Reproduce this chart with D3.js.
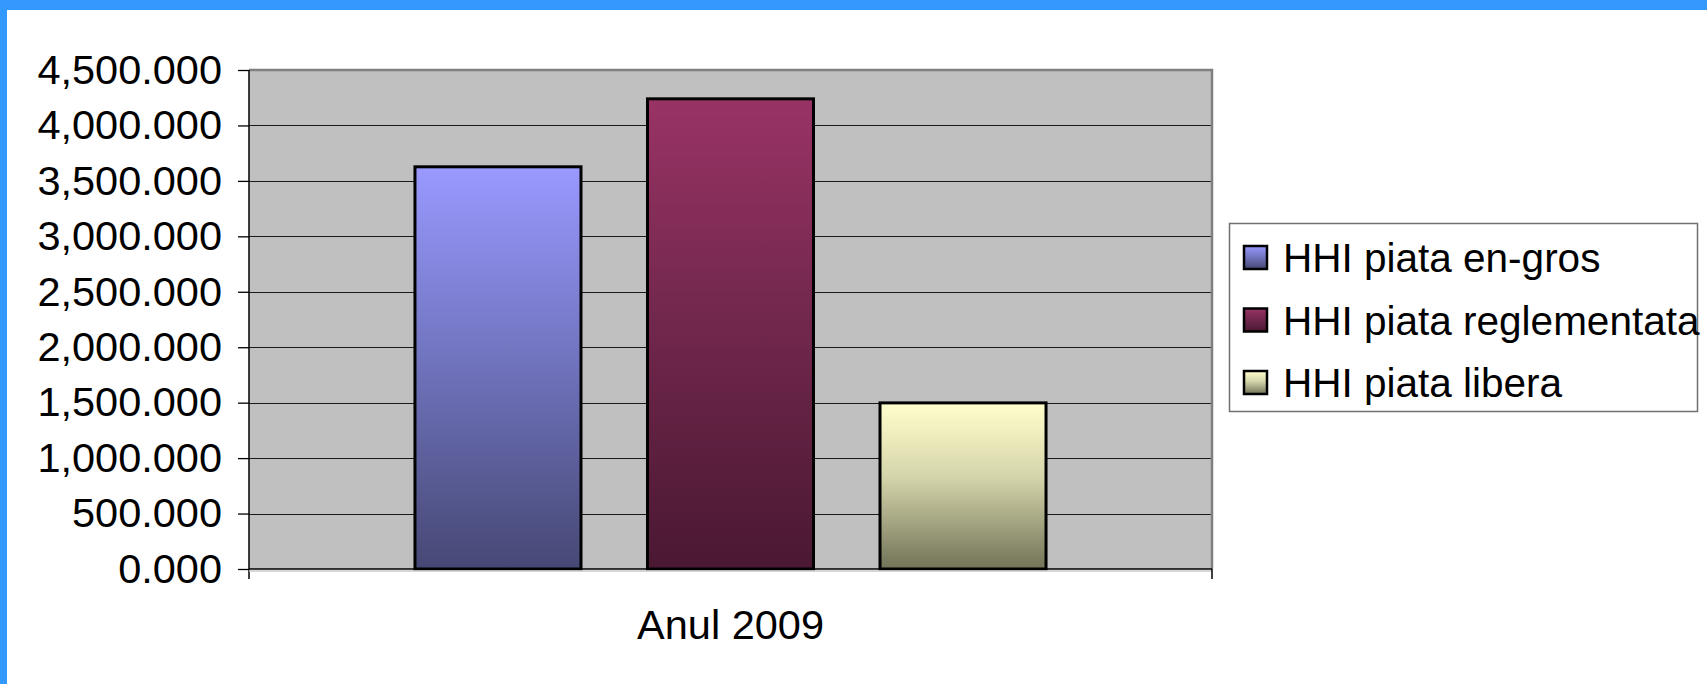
<!DOCTYPE html>
<html>
<head>
<meta charset="utf-8">
<script src="https://cdn.jsdelivr.net/npm/d3@7"></script>
<style>
  body { margin: 0; background: #fff; overflow: hidden; }
  text { font-family: "Liberation Sans", Arial, sans-serif; fill: #000; }
</style>
</head>
<body>
<script>
const w = 1707;
const h = 684;

// data
const categories = ["Anul 2009"];
const seriesNames = ["HHI piata en-gros", "HHI piata reglementata", "HHI piata libera"];
const seriesValues = [3627, 4240, 1498];
const yTicks = [0, 500, 1000, 1500, 2000, 2500, 3000, 3500, 4000, 4500];

// gradient colours, top -> mid -> bottom
const topColors = ["#9999ff", "#993366", "#ffffcc"];
const midColors = ["#7376c2", "#73284d", "#d4d4aa"];
const bottomColors = ["#464874", "#4a1832", "#727358"];

const plot = { left: 249, right: 1212, top: 70, bottom: 569 };

let svg = d3.select("body")
    .append("svg")
    .attr("width", w)
    .attr("height", h);

// blue frame of the slide
svg.append("rect").attr("x", 0).attr("y", 0).attr("width", w).attr("height", 10).attr("fill", "#3399ff");
svg.append("rect").attr("x", 0).attr("y", 0).attr("width", 7).attr("height", h).attr("fill", "#3399ff");

let defs = svg.append("defs");
seriesNames.forEach((s, i) => {
    let g = defs.append("linearGradient")
        .attr("id", "grad" + i)
        .attr("x1", 0).attr("y1", 0).attr("x2", 0).attr("y2", 1);
    g.append("stop").attr("offset", "0%").attr("stop-color", topColors[i]);
    g.append("stop").attr("offset", "45%").attr("stop-color", midColors[i]);
    g.append("stop").attr("offset", "100%").attr("stop-color", bottomColors[i]);
});

let y = d3.scaleLinear()
    .domain([0, 4500])
    .range([plot.bottom, plot.top]);

let x0 = d3.scaleBand()
    .domain(categories)
    .range([plot.left, plot.right])
    .paddingOuter(0.263);

let x1 = d3.scaleBand()
    .domain(seriesNames)
    .range([0, x0.bandwidth()])
    .paddingInner(0.286)
    .paddingOuter(0);

// plot area background
svg.append("rect")
    .attr("x", plot.left)
    .attr("y", plot.top)
    .attr("width", plot.right - plot.left)
    .attr("height", plot.bottom - plot.top)
    .attr("fill", "#c0c0c0");

// gridlines
svg.append("g")
    .selectAll("line")
    .data(yTicks.filter(d => d > 0 && d < 4500))
    .enter()
    .append("line")
    .attr("x1", plot.left)
    .attr("x2", plot.right)
    .attr("y1", d => Math.round(y(d)) + 0.5)
    .attr("y2", d => Math.round(y(d)) + 0.5)
    .attr("stroke", "#1a1a1a")
    .attr("stroke-width", 1.2);

// top and right border of plot area
svg.append("path")
    .attr("d", `M${plot.left},${plot.top} H${plot.right} V${plot.bottom}`)
    .attr("fill", "none")
    .attr("stroke", "#808080")
    .attr("stroke-width", 2.5);

// bars
svg.append("g")
    .selectAll("rect")
    .data(seriesValues)
    .enter()
    .append("rect")
    .attr("x", (d, i) => x0(categories[0]) + x1(seriesNames[i]))
    .attr("width", x1.bandwidth())
    .attr("y", d => y(d))
    .attr("height", d => y(0) - y(d))
    .attr("fill", (d, i) => "url(#grad" + i + ")")
    .attr("stroke", "#000")
    .attr("stroke-width", 3);

// y axis
let yAxis = svg.append("g")
    .attr("transform", "translate(" + plot.left + ",0)")
    .call(d3.axisLeft(y)
        .tickValues(yTicks)
        .tickFormat(d3.format(",.3f"))
        .tickSize(11)
        .tickSizeOuter(0)
        .tickPadding(16));
yAxis.select(".domain").remove();
yAxis.selectAll("line").attr("stroke", "#000").attr("stroke-width", 1.3);
yAxis.selectAll("text")
    .style("font-size", "41.5px")
    .style("font-family", "'Liberation Sans', Arial, sans-serif")
    .attr("fill", "#000");

// axis lines
svg.append("line")
    .attr("x1", plot.left).attr("x2", plot.left)
    .attr("y1", plot.top).attr("y2", plot.bottom + 10)
    .attr("stroke", "#000").attr("stroke-width", 1.5);
svg.append("line")
    .attr("x1", plot.left).attr("x2", plot.right)
    .attr("y1", plot.bottom).attr("y2", plot.bottom)
    .attr("stroke", "#000").attr("stroke-width", 1.5);
svg.append("line")
    .attr("x1", plot.left).attr("x2", plot.right)
    .attr("y1", plot.bottom + 2).attr("y2", plot.bottom + 2)
    .attr("stroke", "#c8c8c8").attr("stroke-width", 1.5);
svg.append("line")
    .attr("x1", plot.right).attr("x2", plot.right)
    .attr("y1", plot.bottom).attr("y2", plot.bottom + 10)
    .attr("stroke", "#000").attr("stroke-width", 1.5);

// x axis label
let xAxis = svg.append("g")
    .attr("transform", "translate(0," + plot.bottom + ")")
    .call(d3.axisBottom(x0).tickSize(0).tickPadding(41));
xAxis.select(".domain").remove();
xAxis.selectAll("text")
    .style("font-size", "41.5px")
    .style("font-family", "'Liberation Sans', Arial, sans-serif")
    .attr("fill", "#000");

// legend
let legend = svg.append("g");
legend.append("rect")
    .attr("x", 1229.5)
    .attr("y", 223.5)
    .attr("width", 468)
    .attr("height", 188)
    .attr("fill", "#fff")
    .attr("stroke", "#707070")
    .attr("stroke-width", 1.5);

let items = legend.selectAll("g.item")
    .data(seriesNames)
    .enter()
    .append("g")
    .attr("class", "item")
    .attr("transform", (d, i) => "translate(1243," + (258 + i * 62.5) + ")");
items.append("rect")
    .attr("x", 1)
    .attr("y", -12)
    .attr("width", 23)
    .attr("height", 23)
    .attr("fill", (d, i) => "url(#grad" + i + ")")
    .attr("stroke", "#000")
    .attr("stroke-width", 2.5);
items.append("text")
    .attr("x", 40)
    .attr("y", 0)
    .attr("dy", "0.35em")
    .style("font-size", "40.5px")
    .text(d => d);
</script>
</body>
</html>
